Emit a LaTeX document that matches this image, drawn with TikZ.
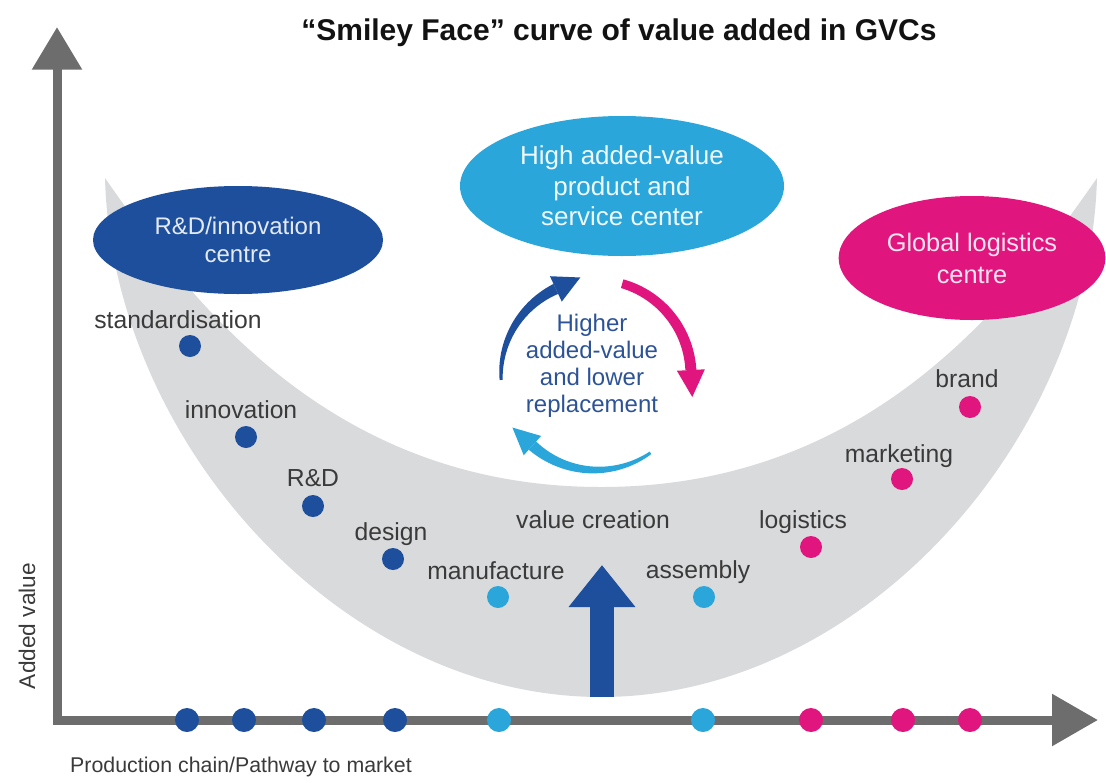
\documentclass[tikz,border=0pt]{standalone}
\usepackage{fontspec}
\setmainfont{Liberation Sans}
\usetikzlibrary{arrows.meta,shapes.geometric}

\definecolor{smilegray}{HTML}{D9DADC}
\definecolor{axisgray}{HTML}{6D6D6D}
\definecolor{rdblue}{HTML}{1D4F9C}
\definecolor{svccyan}{HTML}{2BA6DA}
\definecolor{logpink}{HTML}{E0167E}
\definecolor{labelgray}{HTML}{3A3A3A}
\definecolor{cycletext}{HTML}{2D5397}
\definecolor{bluetext}{HTML}{E4EAF4}
\definecolor{cyantext}{HTML}{EEF8FC}
\definecolor{pinktext}{HTML}{F9E3EF}

% tapered arc of the value cycle around (596,375), radius 95, with a triangular head
% #1 colour, #2 start angle, #3 end angle, #4 tail half-width, #5 head-end half-width, #6 head half-width
\newcommand{\cyclearc}[6]{%
  \fill[#1] plot[domain=#2:#3, samples=40]
      ({596+(95+#4+(#5-#4)*(\x-#2)/(#3-#2))*cos(\x)}, {375+(95+#4+(#5-#4)*(\x-#2)/(#3-#2))*sin(\x)})
    -- plot[domain=#3:#2, samples=40]
      ({596+(95-#4-(#5-#4)*(\x-#2)/(#3-#2))*cos(\x)}, {375+(95-#4-(#5-#4)*(\x-#2)/(#3-#2))*sin(\x)})
    -- cycle;
  \fill[#1] ({596+(95+#6)*cos(#3)}, {375+(95+#6)*sin(#3)})
    -- ({596+95*cos(#3)-27*sin(#3)}, {375+95*sin(#3)+27*cos(#3)})
    -- ({596+(95-#6)*cos(#3)}, {375+(95-#6)*sin(#3)}) -- cycle;
}

\begin{document}
\begin{tikzpicture}[x=0.75pt, y=-0.75pt,
  hub/.style={ellipse, inner sep=0pt, align=center},
  stagedot/.style={circle, fill=#1, minimum size=16.5pt, inner sep=0pt},
  axisdot/.style={circle, fill=#1, minimum size=18pt, inner sep=0pt},
  stagelabel/.style={anchor=base, inner sep=0pt, text=labelgray,
    font=\fontsize{18.5}{22}\selectfont},
  axisline/.style={draw=axisgray, line width=6.75pt},
]
\useasboundingbox (0,0) rectangle (1106,782);

% the smile-shaped band of value added
\fill[smilegray] (105,178) .. controls (112,440) and (340,697) .. (601,697)
  .. controls (862,697) and (1090,440) .. (1097,178)
  .. controls (1012,300) and (872,487) .. (601,487)
  .. controls (330,487) and (190,300) .. cycle;

% title
\node[anchor=base, inner sep=0pt, text=black!93,
  font=\bfseries\fontsize{22.5}{27}\selectfont] (title) at (619,40)
  {“Smiley Face” curve of value added in GVCs};

% axes
\coordinate (ybase) at (57,724.5);
\coordinate (ytip) at (57,27);
\coordinate (xbase) at (52.5,720);
\coordinate (xtip) at (1098,720);
\draw[axisline, -{Triangle[length=32pt, width=36pt]}] (ybase) -- (ytip);
\draw[axisline, -{Triangle[length=34.5pt, width=37.5pt]}] (xbase) -- (xtip);

\node[rotate=90, inner sep=0pt, text=labelgray, font=\fontsize{17}{20}\selectfont]
  (ylabel) at (27,626) {Added value};
\node[anchor=base, inner sep=0pt, text=labelgray, font=\fontsize{16}{19}\selectfont]
  (xlabel) at (241,772) {Production chain/Pathway to market};

% the three centres
\node[hub, fill=rdblue, text=bluetext, minimum width=217.5pt, minimum height=81pt,
  font=\fontsize{18}{21}\selectfont] (rdc) at (238,240) {R\&D/innovation\\centre};
\node[hub, fill=svccyan, text=cyantext, minimum width=243pt, minimum height=105pt,
  font=\fontsize{19.5}{23}\selectfont] (svc) at (622,186)
  {High added-value\\product and\\service center};
\node[hub, fill=logpink, text=pinktext, minimum width=200pt, minimum height=93pt,
  font=\fontsize{19}{24}\selectfont] (glc) at (972,258) {Global logistics\\centre};

% value cycle
\cyclearc{rdblue}{177}{245}{1.5}{5.5}{14}
\cyclearc{logpink}{286}{357}{4.5}{5.5}{14}
\cyclearc{svccyan}{55}{132}{1.5}{5.5}{13}
\node[align=center, inner sep=0pt, text=cycletext, font=\fontsize{18}{20.25}\selectfont]
  (cycle) at (592,366) {Higher\\added-value\\and lower\\replacement};

% value creation arrow
\coordinate (vcbase) at (602,697);
\coordinate (vctip) at (602,565);
\draw[rdblue, line width=18pt, -{Triangle[length=31.5pt, width=48pt]}] (vcbase) -- (vctip);
\node[stagelabel] (vc) at (593,528) {value creation};

% stages along the curve
\node[stagedot=rdblue] (s1) at (190,346) {};
\node[stagedot=rdblue] (s2) at (246,437) {};
\node[stagedot=rdblue] (s3) at (313,506) {};
\node[stagedot=rdblue] (s4) at (393,559) {};
\node[stagedot=svccyan] (s5) at (498,597) {};
\node[stagedot=svccyan] (s6) at (704,597) {};
\node[stagedot=logpink] (s7) at (811,547) {};
\node[stagedot=logpink] (s8) at (902,479) {};
\node[stagedot=logpink] (s9) at (970,407) {};

\node[stagelabel] (l1) at (178,328) {standardisation};
\node[stagelabel] (l2) at (241,418) {innovation};
\node[stagelabel] (l3) at (313,486) {R\&D};
\node[stagelabel] (l4) at (391,540) {design};
\node[stagelabel] (l5) at (496,579) {manufacture};
\node[stagelabel] (l6) at (698,578) {assembly};
\node[stagelabel] (l7) at (803,528) {logistics};
\node[stagelabel] (l8) at (899,462) {marketing};
\node[stagelabel] (l9) at (967,387) {brand};

% the same stages along the production chain
\node[axisdot=rdblue] (a1) at (187,720) {};
\node[axisdot=rdblue] (a2) at (244,720) {};
\node[axisdot=rdblue] (a3) at (314,720) {};
\node[axisdot=rdblue] (a4) at (395,720) {};
\node[axisdot=svccyan] (a5) at (499,720) {};
\node[axisdot=svccyan] (a6) at (703,720) {};
\node[axisdot=logpink] (a7) at (811,720) {};
\node[axisdot=logpink] (a8) at (903,720) {};
\node[axisdot=logpink] (a9) at (970,720) {};
\end{tikzpicture}
\end{document}
